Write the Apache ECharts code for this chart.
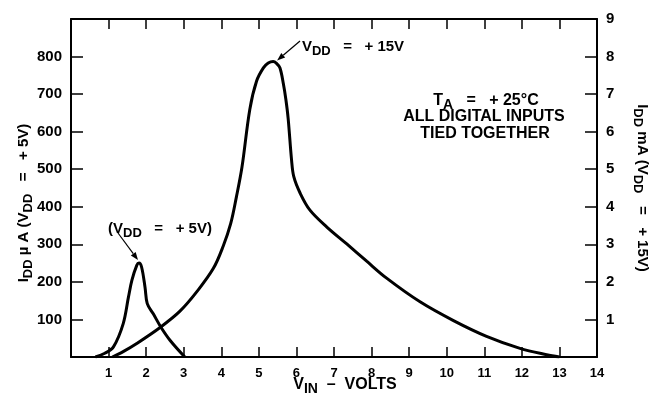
<!DOCTYPE html>
<html>
<head>
<meta charset="utf-8">
<script src="https://cdn.jsdelivr.net/npm/echarts@6/dist/echarts.min.js"></script>
<style>
html,body{margin:0;padding:0;background:#fff;}
#c{width:658px;height:395px;}
</style>
</head>
<body>
<div id="c"></div>
<script>
// ---- data ----
const xTickLabels = ['', '1','2','3','4','5','6','7','8','9','10','11','12','13','14'];
const leftTickLabels = ['', '100','200','300','400','500','600','700','800',''];
const rightTickLabels = ['', '1','2','3','4','5','6','7','8','9'];

// VDD = +5V curve (µA, left axis)
const vin5 = [0.65, 0.9, 1.13, 1.39, 1.53, 1.62, 1.75, 1.81, 1.88, 1.97, 2.03, 2.19, 2.39, 2.64, 3.03];
const idd5 = [0, 10, 27, 89, 160, 204, 244, 250, 239, 186, 142, 115, 80, 44, 0];

// VDD = +15V curve (mA, right axis)
const vin15 = [1.1, 1.4, 1.75, 2.39, 2.9, 3.35, 3.79, 4.05, 4.25, 4.4, 4.55, 4.76, 4.94, 5.12, 5.25, 5.38, 5.47, 5.56, 5.65, 5.72, 5.78, 5.87, 5.93, 6.10, 6.36, 6.81, 7.34, 7.87, 8.40, 9.29, 10.18, 11.06, 11.95, 12.66, 13.0];
const idd15 = [0, 0.15, 0.36, 0.80, 1.22, 1.74, 2.36, 2.95, 3.55, 4.25, 5.05, 6.60, 7.35, 7.70, 7.83, 7.87, 7.82, 7.70, 7.29, 6.85, 6.35, 5.25, 4.80, 4.36, 3.91, 3.46, 3.01, 2.55, 2.10, 1.47, 0.97, 0.55, 0.23, 0.06, 0];

const FONT = "'Liberation Sans', Arial, Helvetica, sans-serif";
const chart = echarts.init(document.getElementById('c'), null, {renderer: 'canvas'});

const axisLineStyle = {color: '#000', width: 2};
const tickStyle = {color: '#000', width: 1.5};

const option = {
  animation: false,
  backgroundColor: '#fff',
  grid: {left: 71, right: 61, top: 19, bottom: 38, containLabel: false},
  xAxis: [
    {
      type: 'value', min: 0, max: 14, interval: 1, position: 'bottom',
      axisLine: {show: true, onZero: false, lineStyle: axisLineStyle},
      axisTick: {show: true, inside: true, length: 10, lineStyle: tickStyle},
      axisLabel: {formatter: (v) => xTickLabels[Math.round(v)] || '', color: '#000', fontSize: 13, fontWeight: 'bold', fontFamily: FONT, margin: 10},
      splitLine: {show: false}
    },
    {
      type: 'value', min: 0, max: 14, interval: 1, position: 'top',
      axisLine: {show: true, onZero: false, lineStyle: axisLineStyle},
      axisTick: {show: true, inside: true, length: 10, lineStyle: tickStyle},
      axisLabel: {show: false},
      splitLine: {show: false}
    }
  ],
  yAxis: [
    {
      type: 'value', min: 0, max: 900, interval: 100, position: 'left',
      axisLine: {show: true, onZero: false, lineStyle: axisLineStyle},
      axisTick: {show: true, inside: true, length: 12, lineStyle: tickStyle},
      axisLabel: {formatter: (v) => leftTickLabels[Math.round(v / 100)] || '', color: '#000', fontSize: 15, fontWeight: 'bold', fontFamily: FONT, margin: 9},
      splitLine: {show: false}
    },
    {
      type: 'value', min: 0, max: 9, interval: 1, position: 'right',
      axisLine: {show: true, onZero: false, lineStyle: axisLineStyle},
      axisTick: {show: true, inside: true, length: 12, lineStyle: tickStyle},
      axisLabel: {formatter: (v) => rightTickLabels[Math.round(v)] || '', color: '#000', fontSize: 15, fontWeight: 'bold', fontFamily: FONT, margin: 9},
      splitLine: {show: false}
    }
  ],
  series: [
    {
      name: 'VDD = +5V', type: 'line', xAxisIndex: 0, yAxisIndex: 0,
      data: vin5.map((x, i) => [x, idd5[i]]),
      showSymbol: false, smooth: 0.35,
      lineStyle: {color: '#000', width: 3}
    },
    {
      name: 'VDD = +15V', type: 'line', xAxisIndex: 0, yAxisIndex: 1,
      data: vin15.map((x, i) => [x, idd15[i]]),
      showSymbol: false, smooth: 0.35,
      lineStyle: {color: '#000', width: 3}
    }
  ]
};
chart.setOption(option);

// ---- annotations ----
function rt(size) {
  return {
    m: {fontSize: size, fontWeight: 'bold', fontFamily: FONT, fill: '#000', color: '#000'},
    s: {fontSize: size - 2, fontWeight: 'bold', fontFamily: FONT, fill: '#000', color: '#000', padding: [9, 0, 0, 0]}
  };
}
function txt(x, y, text, size, rot) {
  return {
    type: 'text', x: x, y: y, rotation: rot || 0,
    style: {text: text, rich: rt(size), align: 'center', verticalAlign: 'middle', textAlign: 'center', textVerticalAlign: 'middle', fill: '#000', font: 'bold ' + size + 'px ' + FONT}
  };
}
function arrow(x1, y1, x2, y2) {
  const ang = Math.atan2(y2 - y1, x2 - x1);
  const L = 8, W = 3;
  const bx = x2 - L * Math.cos(ang), by = y2 - L * Math.sin(ang);
  const px = -Math.sin(ang) * W, py = Math.cos(ang) * W;
  return [
    {type: 'line', shape: {x1: x1, y1: y1, x2: bx, y2: by}, style: {stroke: '#000', lineWidth: 1.2}},
    {type: 'polygon', shape: {points: [[x2, y2], [bx + px, by + py], [bx - px, by - py]]}, style: {fill: '#000'}}
  ];
}

// peak positions from the data through the chart's scales
let i5 = idd5.indexOf(Math.max(...idd5));
let i15 = idd15.indexOf(Math.max(...idd15));
const p5 = chart.convertToPixel({xAxisIndex: 0, yAxisIndex: 0}, [vin5[i5], idd5[i5]]);
const p15 = chart.convertToPixel({xAxisIndex: 0, yAxisIndex: 1}, [vin15[i15], idd15[i15]]);

const graphics = [
  txt(353, 47, '{m|V}{s|DD}{m|   =   + 15V}', 15),
  txt(160, 229, '{m|(V}{s|DD}{m|   =   + 5V)}', 15),
  txt(486, 101, '{m|T}{s|A}{m|   =   + 25°C}', 16),
  txt(484, 117, '{m|ALL DIGITAL INPUTS}', 16),
  txt(485, 134, '{m|TIED TOGETHER}', 16),
  txt(345, 385, '{m|V}{s|IN}{m|  –  VOLTS}', 16),
  txt(24, 203, '{m|I}{s|DD}{m| µ A (V}{s|DD}{m|   =   + 5V)}', 15, Math.PI / 2),
  txt(642, 188, '{m|I}{s|DD}{m| mA (V}{s|DD}{m|   =   + 15V)}', 15, -Math.PI / 2)
].concat(arrow(300, 41, p15[0] + 4, p15[1] - 1))
 .concat(arrow(118, 233, p5[0] - 1, p5[1] - 3));

chart.setOption({graphic: graphics});
</script>
</body>
</html>
